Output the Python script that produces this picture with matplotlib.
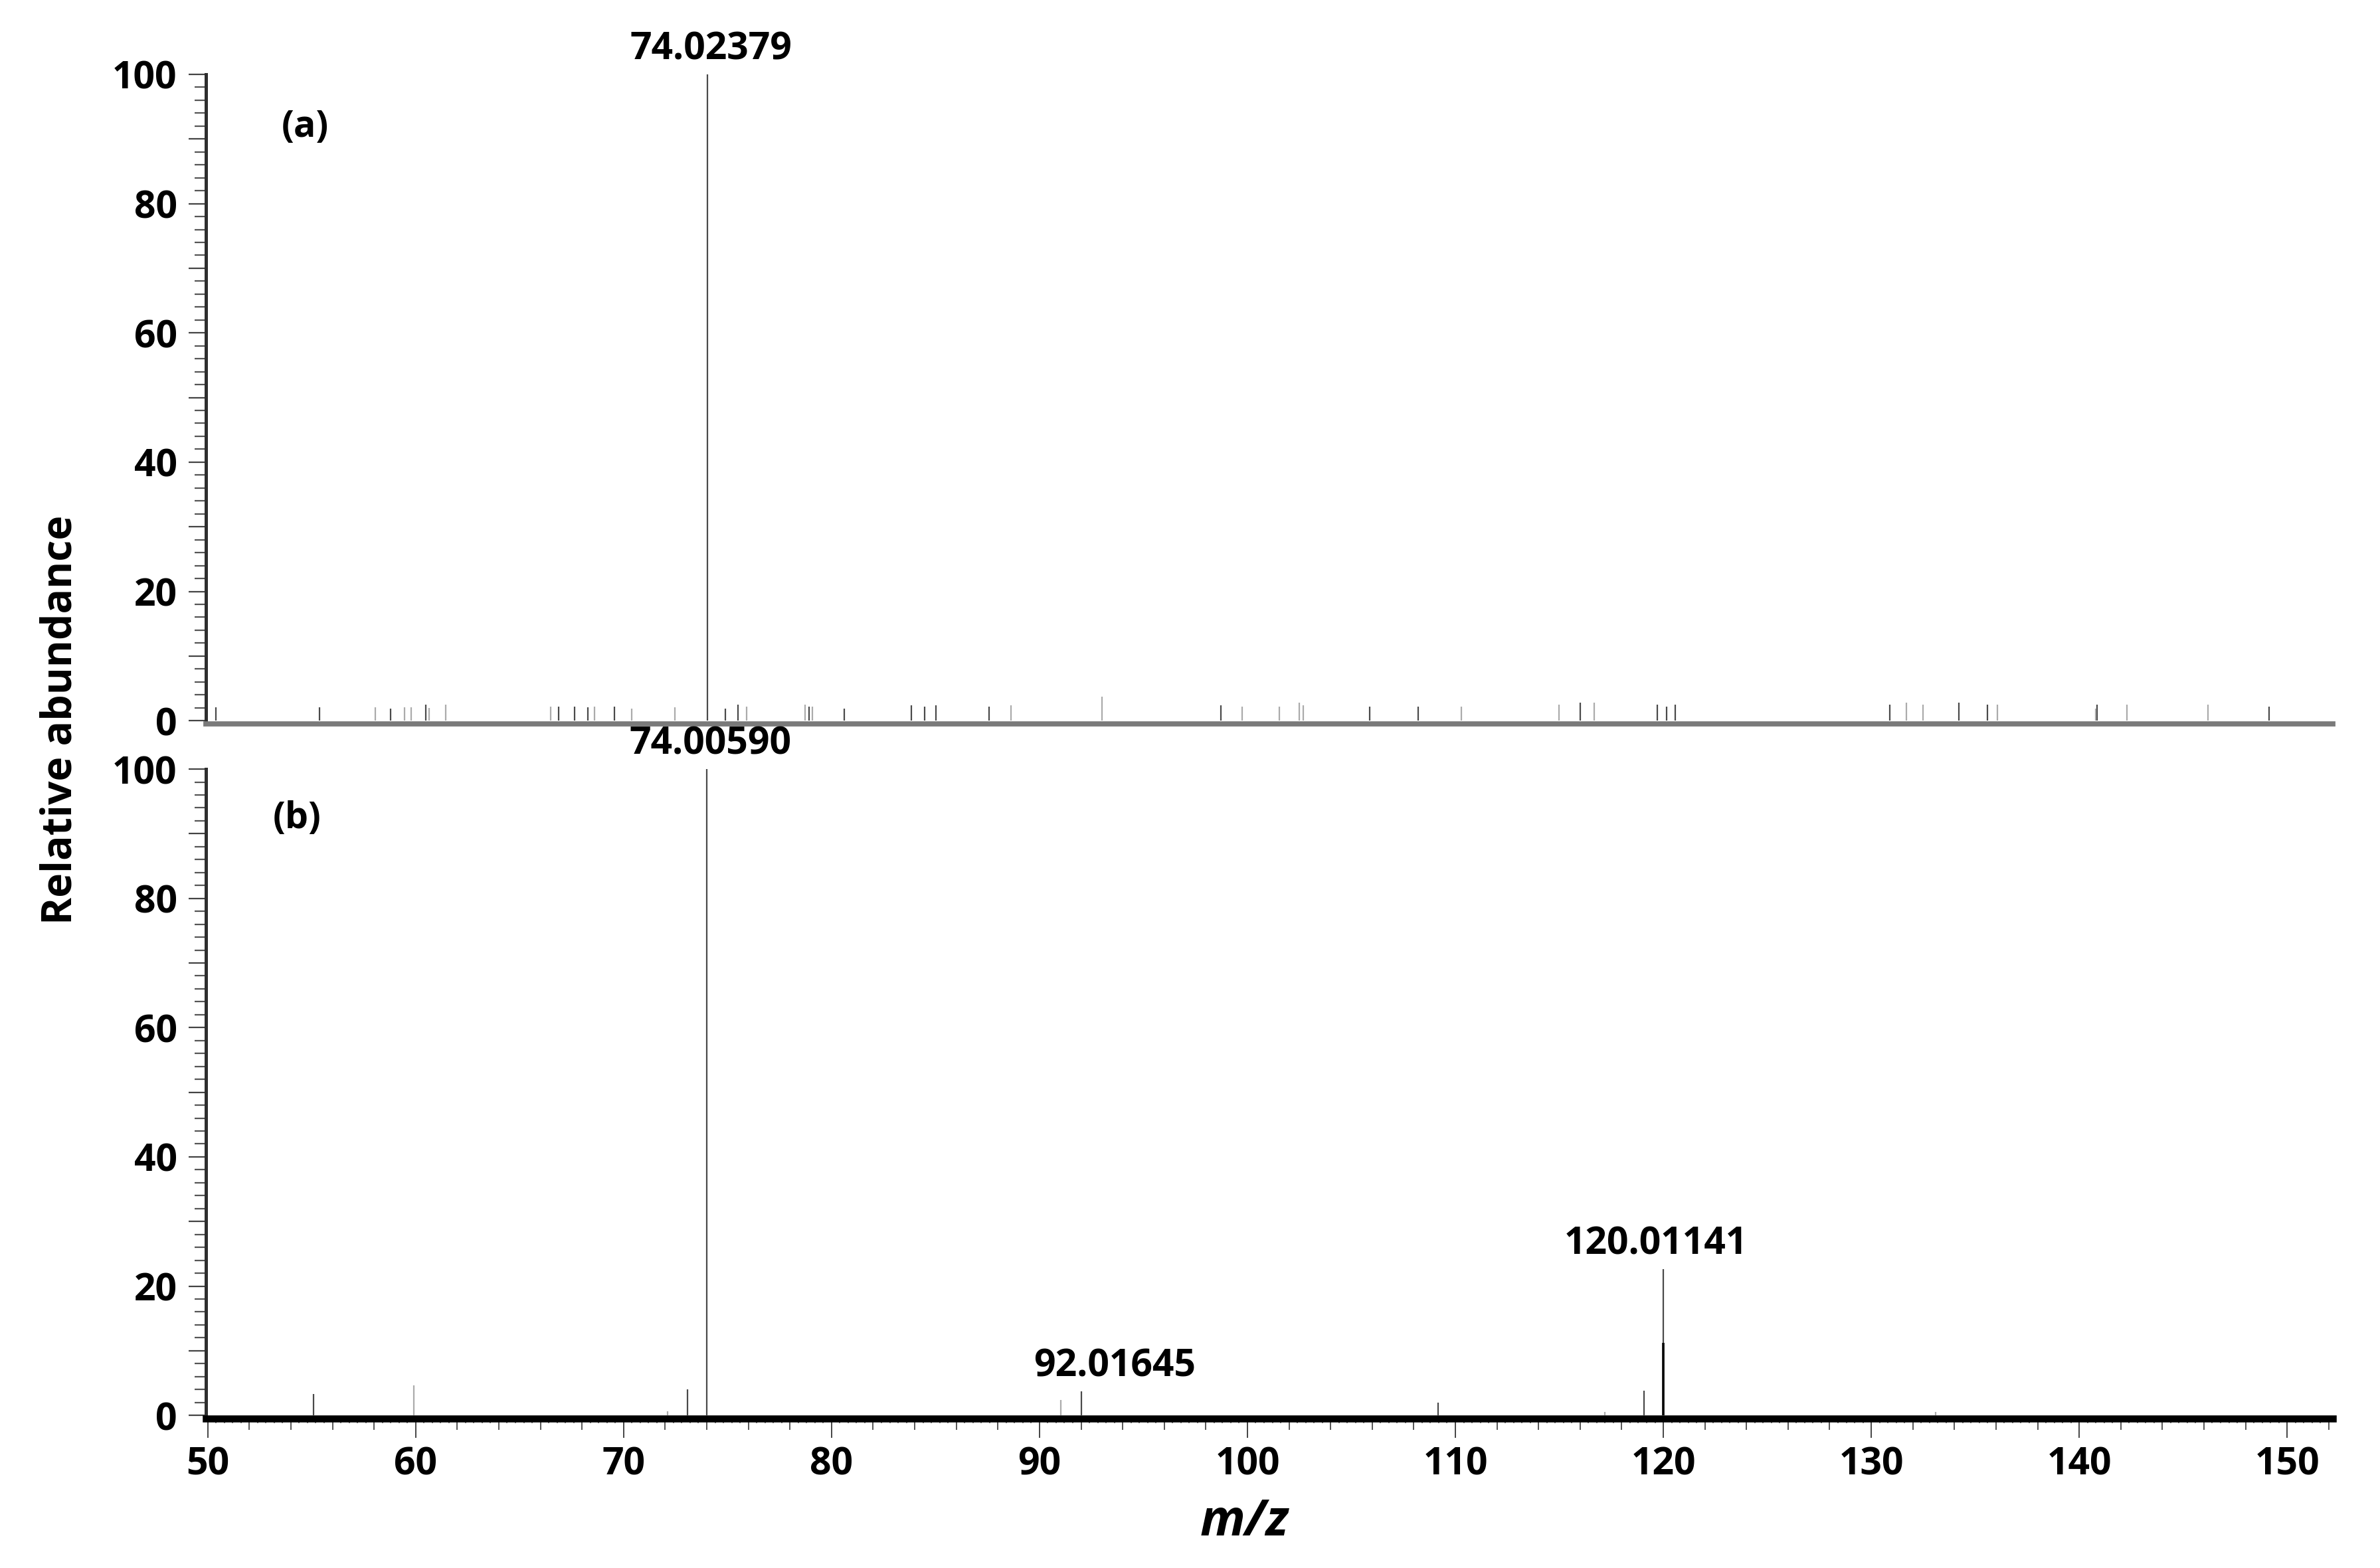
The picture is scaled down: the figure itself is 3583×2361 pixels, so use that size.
import numpy as np
import matplotlib
matplotlib.use("Agg")
import matplotlib.pyplot as plt
from matplotlib.ticker import MultipleLocator, FuncFormatter

plt.rcParams["font.family"] = ["Open Sans", "DejaVu Sans"]
plt.rcParams["font.weight"] = "bold"

# line tones: d = dark grey, g = light grey, k = black
TONES = {"d": ("#4a4a4a", 0.8), "g": ("#ababab", 0.8), "k": ("black", 1.3)}

# panel (a): m/z, relative abundance, tone
mz_a = [50.38, 55.38, 58.07, 58.81, 59.48, 59.80, 60.49, 60.65, 61.44,
        66.48, 66.89, 67.65, 68.28, 68.61, 69.55, 70.40, 72.48, 74.02379,
        74.88, 75.51, 75.93, 78.74, 78.92, 79.07, 80.62, 83.84, 84.47, 85.03,
        87.56, 88.64, 93.01, 98.74, 99.75, 101.52, 102.48, 102.68, 105.89,
        108.22, 110.30, 114.99, 115.99, 116.69, 119.72, 120.16, 120.57,
        130.88, 131.70, 132.49, 134.21, 135.58, 136.06, 140.78, 140.86,
        142.28, 146.18, 149.12]
int_a = [2.1, 2.1, 2.1, 1.9, 2.1, 2.1, 2.5, 2.0, 2.5,
         2.2, 2.2, 2.2, 2.1, 2.2, 2.2, 1.9, 2.1, 100.0,
         1.9, 2.5, 2.2, 2.5, 2.2, 2.2, 1.9, 2.4, 2.2, 2.4,
         2.2, 2.4, 3.7, 2.4, 2.2, 2.2, 2.8, 2.4, 2.2,
         2.2, 2.2, 2.5, 2.8, 2.8, 2.5, 2.2, 2.5,
         2.5, 2.8, 2.5, 2.8, 2.5, 2.5, 1.9, 2.5,
         2.5, 2.5, 2.2]
tone_a = ("ddgdggdgg" "gdddgdgg" "dddgg" "dgd" "ddddgg"
          "dgggg" "ddggdg" "ddddgg" "ddggdggd")

# panel (b)
mz_b = [55.10, 59.92, 72.10, 73.07, 74.00590, 91.03, 92.01645, 109.18,
        117.18, 119.08, 120.01141, 120.0130, 133.10]
int_b = [3.35, 4.6, 0.6, 4.0, 100.0, 2.4, 3.7, 2.0,
         0.5, 3.8, 22.6, 11.2, 0.5]
tone_b = "dggddgddgddkg"

labels_a = {74.02379: "74.02379"}
labels_b = {74.00590: "74.00590", 92.01645: "92.01645", 120.01141: "120.01141"}

XMIN, XMAX = 49.9, 152.2


def draw_peaks(ax, mz, inten, tones):
    for key, (col, lw) in TONES.items():
        sel = [i for i, t in enumerate(tones) if t == key]
        if sel:
            ax.vlines([mz[i] for i in sel], 0, [inten[i] for i in sel],
                      colors=col, linewidth=lw)


def style_axis(ax):
    ax.set_xlim(XMIN, XMAX)
    ax.set_ylim(-0.5, 100)
    ax.spines["top"].set_visible(False)
    ax.spines["right"].set_visible(False)
    ax.spines["left"].set_color("#2e2e2e")
    ax.spines["left"].set_linewidth(1.8)
    ax.yaxis.set_major_locator(MultipleLocator(10))
    ax.yaxis.set_minor_locator(MultipleLocator(2))
    ax.yaxis.set_major_formatter(
        FuncFormatter(lambda v, p: f"{v:.0f}" if round(v) % 20 == 0 else ""))
    ax.tick_params(axis="y", which="major", length=9.5, width=0.8,
                   color="#444444", pad=6, labelsize=20.5)
    ax.tick_params(axis="y", which="minor", length=6, width=0.8,
                   color="#555555")


fig = plt.figure(figsize=(17.915, 11.805), dpi=200)
ax_a = fig.add_axes([0.0864, 0.5383, 0.8938, 0.4143])
ax_b = fig.add_axes([0.0864, 0.0953, 0.8938, 0.4142])

# (a)
style_axis(ax_a)
draw_peaks(ax_a, mz_a, int_a, tone_a)
ax_a.spines["bottom"].set_color("#7a7a7a")
ax_a.spines["bottom"].set_linewidth(2.8)
ax_a.tick_params(axis="x", which="both", bottom=False, labelbottom=False)
for mz, lab in labels_a.items():
    h = int_a[mz_a.index(mz)]
    ax_a.annotate(lab, (mz, h), xytext=(2, 3), textcoords="offset points",
                  ha="center", va="bottom", fontsize=20.5, annotation_clip=False)
ax_a.text(54.7, 91.8, "(a)", ha="center", va="center", fontsize=20)

# (b)
style_axis(ax_b)
draw_peaks(ax_b, mz_b, int_b, tone_b)
ax_b.spines["bottom"].set_color("black")
ax_b.spines["bottom"].set_linewidth(3.8)
ax_b.xaxis.set_major_locator(MultipleLocator(10))
ax_b.xaxis.set_minor_locator(MultipleLocator(2))
ax_b.tick_params(axis="x", which="major", length=10.5, width=0.7,
                 color="#444444", pad=4, labelsize=20.5)
ax_b.tick_params(axis="x", which="minor", length=6, width=0.7,
                 color="#555555")
sec = ax_b.secondary_xaxis("bottom")
sec.spines["bottom"].set_visible(False)
sec.set_xticks(np.arange(50, XMAX, 0.4))
sec.tick_params(axis="x", length=2.5, width=0.6, color="#666666",
                labelbottom=False)
offsets_b = {74.00590: 2, 92.01645: 18, 120.01141: -4}
for mz, lab in labels_b.items():
    h = int_b[mz_b.index(mz)]
    ax_b.annotate(lab, (mz, h), xytext=(offsets_b[mz], 3),
                  textcoords="offset points", ha="center", va="bottom",
                  fontsize=20.5, annotation_clip=False)
ax_b.text(54.3, 92.4, "(b)", ha="center", va="center", fontsize=20)

fig.text(0.0254, 0.541, "Relative abundance", rotation=90,
         ha="center", va="center", fontsize=22.5)
fig.text(0.523, 0.0292, "m/z", ha="center", va="center",
         fontsize=27, fontstyle="italic")

fig.savefig("out.png", dpi=200)
